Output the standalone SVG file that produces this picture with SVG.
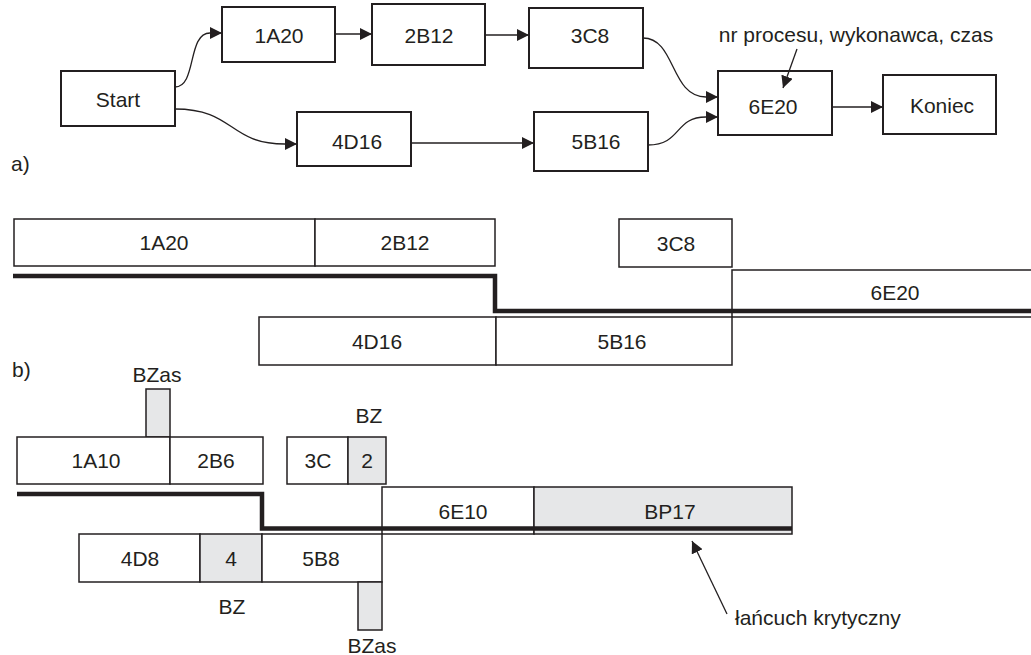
<svg xmlns="http://www.w3.org/2000/svg" width="1031" height="655" viewBox="0 0 1031 655">
<defs>
<marker id="arr" markerWidth="12" markerHeight="12" refX="12" refY="6" orient="auto" markerUnits="userSpaceOnUse"><path d="M0,0 L12,6 L0,12 z" fill="#231f20"/></marker>
<style>
text{font-family:"Liberation Sans",Arial,sans-serif;font-size:21px;fill:#231f20}
.c{text-anchor:middle}
.na{fill:#fff;stroke:#231f20;stroke-width:2}
.nb{fill:#fff;stroke:#231f20;stroke-width:1.5}
.g{fill:#e6e7e8;stroke:#231f20;stroke-width:1.5}
.ln{fill:none;stroke:#231f20;stroke-width:1.3}
.crit{fill:none;stroke:#231f20;stroke-width:4.5;stroke-linejoin:miter}
</style>
</defs>
<rect width="1031" height="655" fill="#fff"/>

<!-- part a -->
<g id="a-start"><rect class="na" x="61" y="71" width="114" height="55"/><text class="c" x="118" y="107">Start</text></g>
<g id="a-1A20"><rect class="na" x="222" y="7" width="113" height="55"/><text class="c" x="279" y="43">1A20</text></g>
<g id="a-2B12"><rect class="na" x="372" y="4" width="113" height="61"/><text class="c" x="429" y="43">2B12</text></g>
<g id="a-3C8"><rect class="na" x="529" y="8" width="114" height="60"/><text class="c" x="590" y="43">3C8</text></g>
<g id="a-4D16"><rect class="na" x="297" y="112" width="114" height="54"/><text class="c" x="357" y="149">4D16</text></g>
<g id="a-5B16"><rect class="na" x="534" y="112" width="114" height="59"/><text class="c" x="596" y="149">5B16</text></g>
<g id="a-6E20"><rect class="na" x="718" y="71" width="114" height="64"/><text class="c" x="773" y="114">6E20</text></g>
<g id="a-koniec"><rect class="na" x="883" y="75" width="113" height="59"/><text class="c" x="942" y="113">Koniec</text></g>
<g id="a-label"><text class="c" x="856" y="42">nr procesu, wykonawca, czas</text></g>
<text x="11" y="171">a)</text>

<g id="connectors">
<path class="ln" d="M175,87 C197,87 187,33 210,33 L222,33" marker-end="url(#arr)"/>
<path class="ln" d="M175,109 C235,109 228,144 285,144 L297,144" marker-end="url(#arr)"/>
<path class="ln" d="M335,34 L372,34" marker-end="url(#arr)"/>
<path class="ln" d="M485,35 L529,35" marker-end="url(#arr)"/>
<path class="ln" d="M411,143 L534,143" marker-end="url(#arr)"/>
<path class="ln" d="M643,38 C676,38 670,97 706,97 L718,97" marker-end="url(#arr)"/>
<path class="ln" d="M648,145 C682,145 674,117 706,117 L718,117" marker-end="url(#arr)"/>
<path class="ln" d="M832,107 L883,107" marker-end="url(#arr)"/>
<path class="ln" d="M797,49 L783,88" marker-end="url(#arr)"/>
<path class="ln" d="M727,614 L692,541" marker-end="url(#arr)"/>
</g>

<!-- part b upper -->
<text x="12" y="377">b)</text>
<g id="b-1A20"><rect class="nb" x="14" y="219" width="301" height="47"/><text class="c" x="164" y="250">1A20</text></g>
<g id="b-2B12"><rect class="nb" x="315" y="219" width="180" height="47"/><text class="c" x="405" y="250">2B12</text></g>
<g id="b-3C8"><rect class="nb" x="619" y="219" width="113" height="48"/><text class="c" x="676" y="251">3C8</text></g>
<g id="b-6E20"><rect class="nb" x="732" y="270" width="310" height="47"/><text class="c" x="895" y="300">6E20</text></g>
<g id="b-4D16"><rect class="nb" x="259" y="317" width="237" height="48"/><text class="c" x="377" y="349">4D16</text></g>
<g id="b-5B16"><rect class="nb" x="496" y="317" width="236" height="48"/><text class="c" x="622" y="349">5B16</text></g>

<!-- part b lower -->
<g id="c-bzas-top"><text class="c" x="157" y="382">BZas</text><rect class="g" x="146" y="389" width="24" height="48"/></g>
<g id="c-1A10"><rect class="nb" x="17" y="437" width="153" height="47"/><text class="c" x="96" y="468">1A10</text></g>
<g id="c-2B6"><rect class="nb" x="170" y="437" width="93" height="47"/><text class="c" x="216" y="468">2B6</text></g>
<g id="c-3C"><rect class="nb" x="287" y="437" width="61" height="47"/><text class="c" x="318" y="468">3C</text></g>
<g id="c-bz2"><text class="c" x="369" y="423">BZ</text><rect class="g" x="348" y="437" width="38" height="47"/><text class="c" x="367" y="468">2</text></g>
<g id="c-6E10"><rect class="nb" x="382" y="487" width="152" height="47"/><text class="c" x="463" y="519">6E10</text></g>
<g id="c-BP17"><rect class="g" x="534" y="487" width="258" height="47"/><text class="c" x="670" y="519">BP17</text></g>
<g id="c-4D8"><rect class="nb" x="79" y="534" width="121" height="48"/><text class="c" x="140" y="566">4D8</text></g>
<g id="c-bz4"><rect class="g" x="200" y="534" width="62" height="48"/><text class="c" x="231" y="566">4</text><text class="c" x="232" y="614">BZ</text></g>
<g id="c-5B8"><rect class="nb" x="262" y="534" width="120" height="48"/><text class="c" x="321" y="566">5B8</text></g>
<g id="c-bzas-bottom"><rect class="g" x="358" y="582" width="24" height="48"/><text class="c" x="372" y="653">BZas</text></g>
<g id="c-label"><text x="735" y="625">łańcuch krytyczny</text></g>

<g id="critical-chains">
<path class="crit" d="M13,276 H495 V311 H1031"/>
<path class="crit" d="M17,494 H262 V528.5 H792"/>
</g>
</svg>
